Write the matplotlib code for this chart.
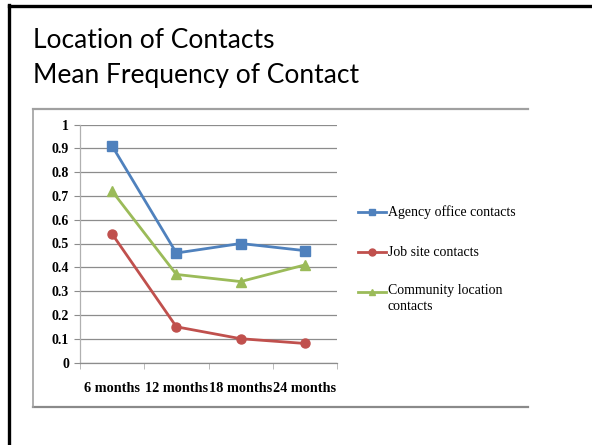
import matplotlib
matplotlib.use("Agg")
import matplotlib.pyplot as plt
from matplotlib.lines import Line2D
import numpy as np

categories = ["6 months", "12 months", "18 months", "24 months"]
agency = [0.91, 0.46, 0.50, 0.47]
job_site = [0.54, 0.15, 0.10, 0.08]
community = [0.72, 0.37, 0.34, 0.41]
series_names = ["Agency office contacts", "Job site contacts", "Community location\ncontacts"]
y_ticks = [0, 0.1, 0.2, 0.3, 0.4, 0.5, 0.6, 0.7, 0.8, 0.9, 1]
y_tick_labels = ["0", "0.1", "0.2", "0.3", "0.4", "0.5", "0.6", "0.7", "0.8", "0.9", "1"]

W, H = 592, 445
fig = plt.figure(figsize=(W / 100, H / 100), dpi=100)
fig.patch.set_facecolor("white")

def fx(px):
    return px / W

def fy(py):
    return 1 - py / H

# slide border (top and left)
fig.add_artist(Line2D([fx(8.5), fx(592)], [fy(6), fy(6)], color="black", lw=2.4, transform=fig.transFigure))
fig.add_artist(Line2D([fx(8.5), fx(8.5)], [fy(5), fy(445)], color="black", lw=2.4, transform=fig.transFigure))

# title
title_font = ["Lato", "DejaVu Sans"]
fig.text(fx(33), fy(41), "Location of Contacts", fontsize=19, family=title_font, va="center", ha="left")
fig.text(fx(33), fy(76), "Mean Frequency of Contact", fontsize=19, family=title_font, va="center", ha="left")

# chart box (left, top, bottom)
fig.add_artist(Line2D([fx(33), fx(528)], [fy(109), fy(109)], color="#a0a0a0", lw=1.6, transform=fig.transFigure))
fig.add_artist(Line2D([fx(33), fx(528)], [fy(407), fy(407)], color="#8a8a8a", lw=1.6, transform=fig.transFigure))
fig.add_artist(Line2D([fx(33), fx(33)], [fy(109), fy(407)], color="#a0a0a0", lw=1.2, transform=fig.transFigure))

left, right, top, bottom = 80, 337, 124.5, 362.5
ax = fig.add_axes([fx(left), fy(bottom), fx(right - left), (bottom - top) / H])
ax.set_facecolor("none")

x = np.arange(len(categories))
colors = ["#4F81BD", "#C0504D", "#9BBB59"]
markers = ["s", "o", "^"]
data = [agency, job_site, community]
handles = []
for vals, c, m, name in zip(data, colors, markers, series_names):
    h, = ax.plot(x, vals, color=c, marker=m, markersize=6.5, lw=2.0, label=name, zorder=3)
    handles.append(h)

ax.set_xlim(-0.5, len(categories) - 0.5)
ax.set_ylim(0, 1)
ax.set_yticks(y_ticks)
ax.set_yticklabels(y_tick_labels)
ax.set_xticks(x)
ax.set_xticklabels(categories)
ax.set_xticks(np.arange(len(categories) + 1) - 0.5, minor=True)

grid_c = "#8c8c8c"
ax.yaxis.grid(True, color=grid_c, lw=0.9)
ax.set_axisbelow(True)
for s in ["top", "right"]:
    ax.spines[s].set_visible(False)
ax.spines["left"].set_color("#b0b0b0")
ax.spines["bottom"].set_color(grid_c)
ax.spines["left"].set_linewidth(0.9)
ax.spines["bottom"].set_linewidth(0.9)

ax.tick_params(axis="y", length=4, color=grid_c, pad=4)
ax.tick_params(axis="x", which="major", length=0, pad=14)
ax.tick_params(axis="x", which="minor", length=4, color="#b0b0b0")
for lab in ax.get_xticklabels():
    lab.set_fontfamily("Liberation Serif")
    lab.set_fontweight("bold")
    lab.set_fontsize(10.3)
for lab in ax.get_yticklabels():
    lab.set_fontfamily("Liberation Serif")
    lab.set_fontweight("bold")
    lab.set_fontsize(10)

# legend
leg_y = [212, 252, 292]
for h, c, m, name, ly in zip(handles, colors, markers, series_names, leg_y):
    fig.add_artist(Line2D([fx(358), fx(386)], [fy(ly), fy(ly)], color=c, lw=2.0,
                          transform=fig.transFigure))
    fig.add_artist(Line2D([fx(372)], [fy(ly)], color=c, marker=m, markersize=5,
                          transform=fig.transFigure))
    multi = "\n" in name
    fig.text(fx(388), fy(ly - 8) if multi else fy(ly), name, fontsize=10,
             family="Liberation Serif", va="top" if multi else "center", ha="left",
             linespacing=1.35)

fig.savefig("out.png", dpi=100)
